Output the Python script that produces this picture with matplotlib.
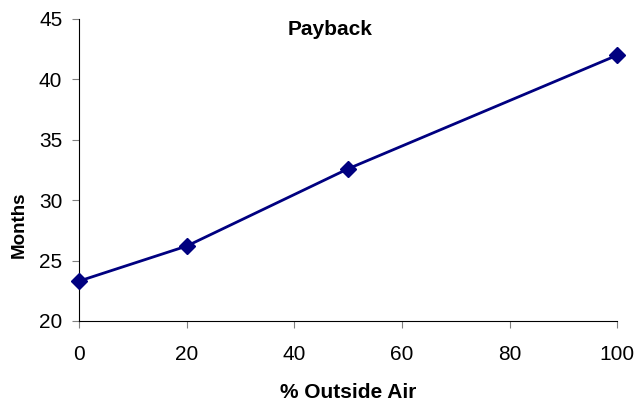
import matplotlib
matplotlib.use("Agg")
import matplotlib.pyplot as plt

outside_air = [0, 20, 50, 100]
payback_months = [23.3, 26.2, 32.6, 42.0]
x_ticks = [0, 20, 40, 60, 80, 100]
y_ticks = [20, 25, 30, 35, 40, 45]

plt.rcParams['font.family'] = ['Liberation Sans', 'DejaVu Sans']

fig = plt.figure(figsize=(6.37, 4.03), dpi=100)
ax = fig.add_axes([0.124, 0.2035, 0.845, 0.7495])

ax.plot(outside_air, payback_months, color='#000080', linewidth=2,
        marker='D', markersize=8, markerfacecolor='#000080',
        markeredgecolor='#000080', clip_on=False, zorder=3)

ax.set_xlim(0, 100)
ax.set_ylim(20, 45)
ax.set_xticks(x_ticks)
ax.set_yticks(y_ticks)
ax.tick_params(labelsize=15, length=5, color='#808080')
ax.tick_params(axis='y', pad=7)
ax.tick_params(axis='x', pad=12)

for side in ['top', 'right']:
    ax.spines[side].set_visible(False)

ax.set_xlabel('% Outside Air', fontsize=15, fontweight='bold')
ax.xaxis.set_label_coords(0.5, -0.205)
ax.set_ylabel('Months', fontsize=13.5, fontweight='bold')
ax.yaxis.set_label_coords(-0.095, 0.32)
fig.text(0.518, 0.927, 'Payback', fontsize=15, fontweight='bold',
         ha='center', va='center')

fig.savefig('out.png', dpi=100)
